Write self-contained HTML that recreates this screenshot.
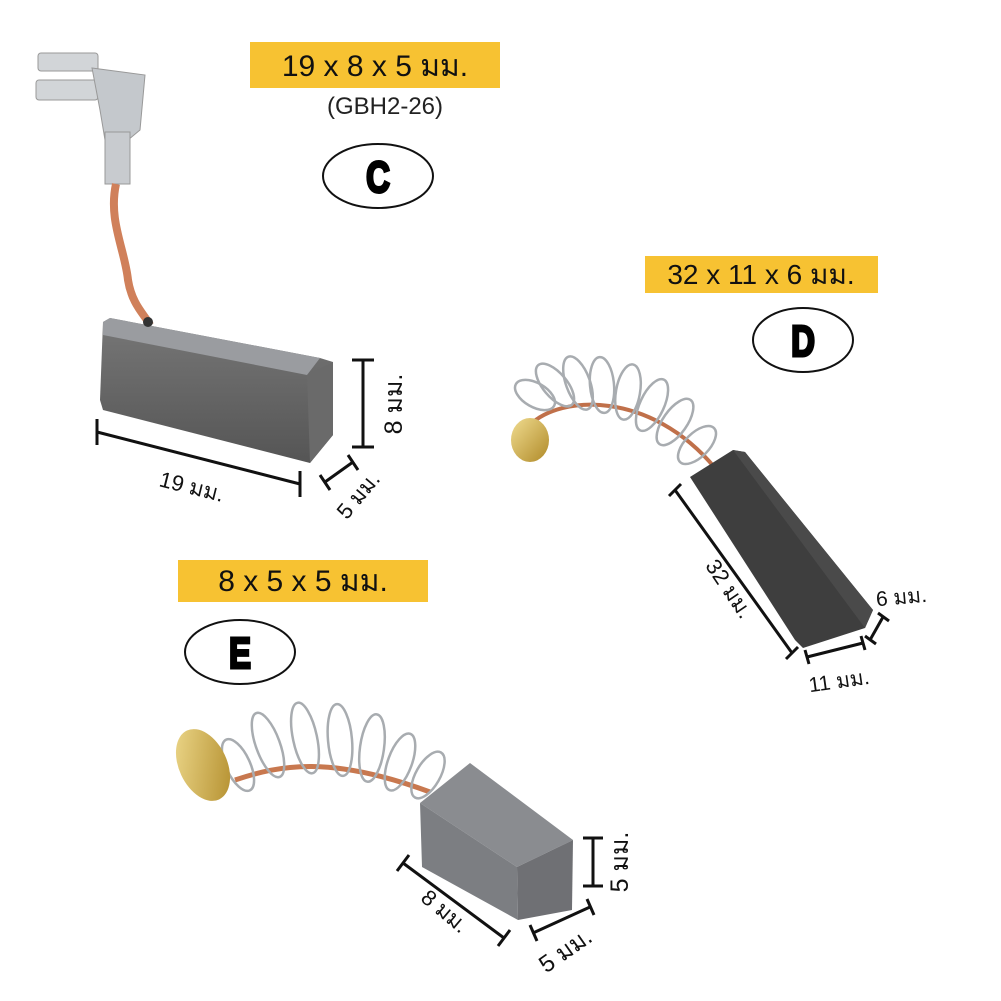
<!DOCTYPE html>
<html><head><meta charset="utf-8">
<style>
html,body{margin:0;padding:0;background:#fff;}
svg{display:block;}
text{font-family:"Liberation Sans","Noto Sans CJK SC",sans-serif;}
.big{font-size:44px;font-weight:bold;fill:#000;stroke:#000;stroke-width:3px;}
</style></head>
<body>
<svg width="1001" height="1001" viewBox="0 0 1001 1001" xmlns="http://www.w3.org/2000/svg">
<defs>
<linearGradient id="carbC" x1="0" y1="0" x2="0" y2="1">
<stop offset="0" stop-color="#777"/><stop offset="1" stop-color="#555"/></linearGradient>
<linearGradient id="gold" x1="0" y1="0" x2="1" y2="1">
<stop offset="0" stop-color="#f0dc90"/><stop offset="1" stop-color="#b08a28"/></linearGradient>
</defs>

<!-- Labels -->
<rect x="250" y="42" width="250" height="46" fill="#f7c232"/>
<text x="375" y="76" font-size="30" text-anchor="middle" fill="#111">19 x 8 x 5 มม.</text>
<text x="385" y="114" font-size="24" text-anchor="middle" fill="#222">(GBH2-26)</text>
<ellipse cx="378" cy="176" rx="55" ry="32" fill="#fff" stroke="#111" stroke-width="2"/>
<text x="378" y="192" class="big" text-anchor="middle" transform="translate(378 0) scale(0.75 1) translate(-378 0)">C</text>

<rect x="645" y="256" width="233" height="37" fill="#f7c232"/>
<text x="761" y="284" font-size="28" text-anchor="middle" fill="#111">32 x 11 x 6 มม.</text>
<ellipse cx="803" cy="340" rx="50" ry="32" fill="#fff" stroke="#111" stroke-width="2"/>
<text x="803" y="356" class="big" text-anchor="middle" transform="translate(803 0) scale(0.75 1) translate(-803 0)">D</text>

<rect x="178" y="560" width="250" height="42" fill="#f7c232"/>
<text x="303" y="591" font-size="30" text-anchor="middle" fill="#111">8 x 5 x 5 มม.</text>
<ellipse cx="240" cy="652" rx="55" ry="32" fill="#fff" stroke="#111" stroke-width="2"/>
<text x="240" y="668" class="big" text-anchor="middle" transform="translate(240 0) scale(0.75 1) translate(-240 0)">E</text>

<!-- Brush C -->
<rect x="38" y="53" width="60" height="18" rx="3" fill="#d2d5d8" stroke="#999"/>
<rect x="36" y="80" width="62" height="20" rx="3" fill="#d2d5d8" stroke="#999"/>
<path d="M92 68 L145 75 L140 130 L128 140 L105 140 L100 110 Z" fill="#c4c8cc" stroke="#999"/>
<rect x="105" y="132" width="25" height="52" fill="#c8cbcf" stroke="#999"/>
<path d="M116 184 C108 220 125 250 128 280 C132 305 145 315 150 325" stroke="#d0805a" stroke-width="8" fill="none"/>
<polygon points="103,322 110,318 320,358 333,362 333,435 310,463 103,410 100,400" fill="url(#carbC)"/>
<polygon points="103,322 110,318 320,358 307,375 103,335" fill="#9a9ca0"/>
<polygon points="307,375 333,362 333,435 310,463" fill="#6a6a6a"/>
<circle cx="148" cy="322" r="5" fill="#333"/>
<g stroke="#111" stroke-width="3" fill="none">
<line x1="97" y1="432" x2="300" y2="484"/><line x1="97" y1="419" x2="97" y2="445"/><line x1="300" y1="471" x2="300" y2="497"/>
<line x1="363" y1="360" x2="363" y2="447"/><line x1="352" y1="360" x2="374" y2="360"/><line x1="352" y1="447" x2="374" y2="447"/>
<line x1="325" y1="482" x2="353" y2="462"/><line x1="320" y1="475" x2="330" y2="490"/><line x1="348" y1="455" x2="358" y2="470"/>
</g>
<text x="190" y="494" font-size="22" transform="rotate(14 190 494)" text-anchor="middle" fill="#111">19 มม.</text>
<text x="402" y="404" font-size="25" transform="rotate(-90 402 404)" text-anchor="middle" fill="#111">8 มม.</text>
<text x="364" y="500" font-size="22" transform="rotate(-50 364 500)" text-anchor="middle" fill="#111">5 มม.</text>

<!-- Brush D spring -->
<path d="M530 425 C560 395 650 390 715 468" stroke="#c0704a" stroke-width="4" fill="none"/>
<g stroke="#a8acb0" stroke-width="2.5" fill="none">
<ellipse cx="535" cy="395" rx="12" ry="22" transform="rotate(-60 535 395)"/>
<ellipse cx="555" cy="385" rx="12" ry="26" transform="rotate(-40 555 385)"/>
<ellipse cx="578" cy="383" rx="12" ry="28" transform="rotate(-20 578 383)"/>
<ellipse cx="602" cy="385" rx="12" ry="28" transform="rotate(-5 602 385)"/>
<ellipse cx="628" cy="392" rx="12" ry="28" transform="rotate(10 628 392)"/>
<ellipse cx="652" cy="405" rx="12" ry="28" transform="rotate(25 652 405)"/>
<ellipse cx="675" cy="422" rx="12" ry="27" transform="rotate(35 675 422)"/>
<ellipse cx="697" cy="445" rx="12" ry="24" transform="rotate(45 697 445)"/>
</g>
<ellipse cx="530" cy="440" rx="19" ry="22" fill="url(#gold)"/>
<!-- Brush D block -->
<polygon points="690,477 733,450 745,452 873,610 865,628 803,648 795,640" fill="#3e3e3e"/>
<polygon points="733,450 745,452 873,610 865,628" fill="#4a4a4a"/>
<g stroke="#111" stroke-width="3" fill="none">
<line x1="675" y1="490" x2="792" y2="653"/><line x1="669" y1="496" x2="681" y2="484"/><line x1="786" y1="659" x2="798" y2="647"/>
<line x1="807" y1="657" x2="863" y2="643"/><line x1="805" y1="650" x2="809" y2="664"/><line x1="861" y1="636" x2="865" y2="650"/>
<line x1="870" y1="640" x2="883" y2="617"/><line x1="865" y1="636" x2="876" y2="644"/><line x1="878" y1="613" x2="889" y2="621"/>
</g>
<text x="723" y="593" font-size="22" transform="rotate(56 723 593)" text-anchor="middle" fill="#111">32 มม.</text>
<text x="840" y="688" font-size="21" transform="rotate(-8 840 688)" text-anchor="middle" fill="#111">11 มม.</text>
<text x="902" y="604" font-size="21" transform="rotate(-5 902 604)" text-anchor="middle" fill="#111">6 มม.</text>

<!-- Brush E spring -->
<path d="M235 780 C280 765 330 755 430 792" stroke="#c8784f" stroke-width="5" fill="none"/>
<g stroke="#a8acb0" stroke-width="2.5" fill="none">
<ellipse cx="238" cy="765" rx="12" ry="28" transform="rotate(-25 238 765)"/>
<ellipse cx="268" cy="745" rx="12" ry="34" transform="rotate(-20 268 745)"/>
<ellipse cx="305" cy="738" rx="12" ry="36" transform="rotate(-12 305 738)"/>
<ellipse cx="340" cy="740" rx="12" ry="36" transform="rotate(-5 340 740)"/>
<ellipse cx="372" cy="748" rx="12" ry="34" transform="rotate(8 372 748)"/>
<ellipse cx="400" cy="762" rx="12" ry="30" transform="rotate(20 400 762)"/>
<ellipse cx="428" cy="775" rx="12" ry="26" transform="rotate(30 428 775)"/>
</g>
<ellipse cx="203" cy="765" rx="24" ry="38" fill="url(#gold)" transform="rotate(-25 203 765)"/>
<!-- Brush E block -->
<polygon points="470,763 573,840 517,867 420,803" fill="#8a8c90"/>
<polygon points="420,803 517,867 518,920 422,867" fill="#7c7e82"/>
<polygon points="517,867 573,840 572,910 518,920" fill="#6f7074"/>
<g stroke="#111" stroke-width="3" fill="none">
<line x1="403" y1="863" x2="504" y2="938"/><line x1="397" y1="871" x2="409" y2="855"/><line x1="498" y1="946" x2="510" y2="930"/>
<line x1="593" y1="838" x2="593" y2="886"/><line x1="583" y1="838" x2="603" y2="838"/><line x1="583" y1="886" x2="603" y2="886"/>
<line x1="533" y1="933" x2="590" y2="907"/><line x1="530" y1="925" x2="537" y2="941"/><line x1="587" y1="899" x2="594" y2="915"/>
</g>
<text x="440" y="917" font-size="22" transform="rotate(40 440 917)" text-anchor="middle" fill="#111">8 มม.</text>
<text x="628" y="862" font-size="25" transform="rotate(-90 628 862)" text-anchor="middle" fill="#111">5 มม.</text>
<text x="570" y="957" font-size="24" transform="rotate(-35 570 957)" text-anchor="middle" fill="#111">5 มม.</text>
</svg>
</body></html>
